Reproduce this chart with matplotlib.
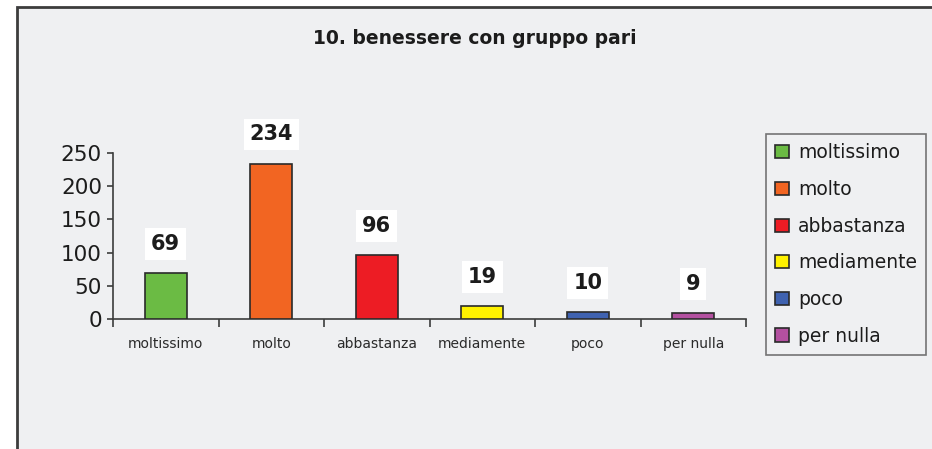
import matplotlib
matplotlib.use("Agg")
import matplotlib.pyplot as plt
from matplotlib.patches import Rectangle

# data
categories = ["moltissimo", "molto", "abbastanza", "mediamente", "poco", "per nulla"]
counts = [69, 234, 96, 19, 10, 9]
bar_colors = ["#6BBB44", "#F26522", "#ED1C24", "#FFF200", "#3F62B0", "#B350A0"]
title = "10. benessere con gruppo pari"
y_ticks = [0, 50, 100, 150, 200, 250]

W, H = 932, 449
bg = "#EFF0F2"
dark = "#3c3c3c"
txt = "#1c1c1c"

plt.rcParams.update({"font.family": "DejaVu Sans"})

fig = plt.figure(figsize=(W / 100, H / 100), dpi=100)
fig.patch.set_facecolor("white")

# chart area frame (grey panel with dark border, running off right/bottom edges)
top = 1 - 7 / H
fig.patches.append(Rectangle((17 / W, -0.2), 1.2, top + 0.2,
                             transform=fig.transFigure, facecolor=bg,
                             edgecolor=dark, linewidth=2, zorder=-5))

ax = fig.add_axes([113 / W, 1 - 319 / H, (746 - 113) / W, (319 - 153) / H])
ax.set_facecolor("none")
ax.set_zorder(2)

x = range(len(categories))
for i, (cat, val, col) in enumerate(zip(categories, counts, bar_colors)):
    ax.bar(i, val, width=0.4, color=col, edgecolor="#2a2a2a", linewidth=1.2,
           label=cat, zorder=3)
    ax.annotate(str(val), (i, val), xytext=(0, 21), textcoords="offset points",
                ha="center", va="center", fontsize=15, fontweight="bold",
                color=txt, zorder=4,
                bbox=dict(boxstyle="square,pad=0.28", facecolor="white",
                          edgecolor="none"))

ax.set_xlim(-0.5, len(categories) - 0.5)
ax.set_ylim(0, 250)
ax.set_yticks(y_ticks)
ax.set_yticklabels([str(v) for v in y_ticks], fontsize=15.5, color=txt)
ax.set_xticks(list(x))
ax.set_xticklabels(categories, fontsize=10, color="#2a2a2a")
ax.set_xticks([i - 0.5 for i in range(len(categories) + 1)], minor=True)
ax.tick_params(axis="x", which="major", length=0, pad=13)
ax.tick_params(axis="x", which="minor", length=6, width=1.2, color=dark,
               direction="out")
ax.tick_params(axis="y", length=4, width=1.2, color=dark, pad=4)

for s in ["top", "right"]:
    ax.spines[s].set_visible(False)
for s in ["left", "bottom"]:
    ax.spines[s].set_color(dark)
    ax.spines[s].set_linewidth(1.2)

fig.text(475 / W, 1 - 38 / H, title, ha="center", va="center",
         fontsize=13.5, fontweight="bold", color=txt)

leg = ax.legend(loc="upper left", bbox_to_anchor=(766 / W, 1 - 134 / H),
                bbox_transform=fig.transFigure, borderaxespad=0,
                fontsize=13.5, frameon=True, fancybox=False,
                handlelength=0.7, handleheight=0.7, handletextpad=0.5,
                labelspacing=0.94, borderpad=0.5)
leg.get_frame().set_facecolor(bg)
leg.get_frame().set_edgecolor("#555555")
leg.get_frame().set_linewidth(1.2)
for t in leg.get_texts():
    t.set_color(txt)

fig.savefig("out.png", dpi=100, facecolor=fig.get_facecolor())
